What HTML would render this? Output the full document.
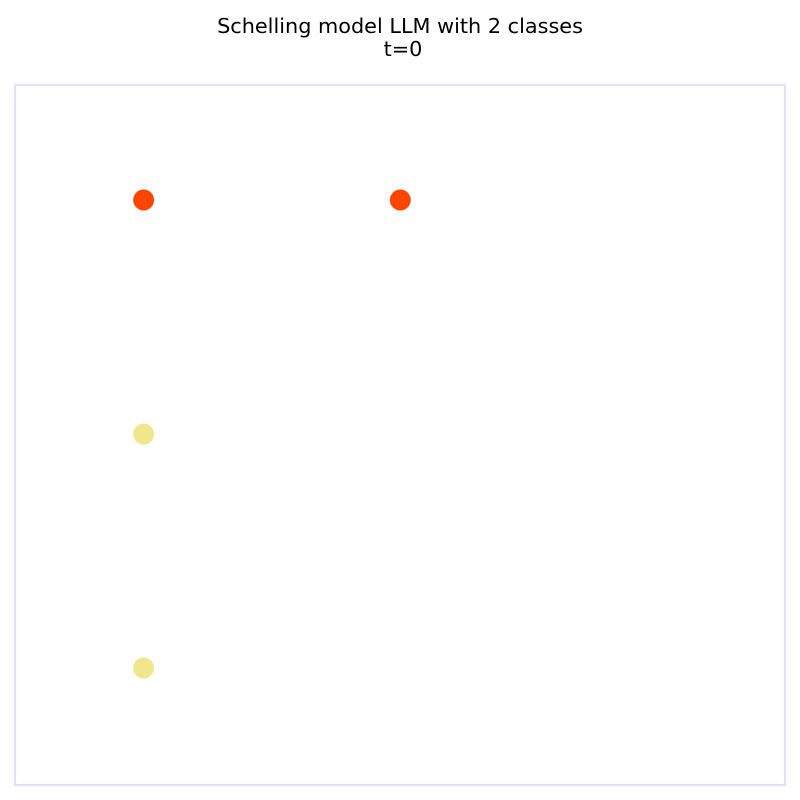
<!DOCTYPE html>
<html><head><meta charset="utf-8"><style>
html,body{margin:0;padding:0;background:#fff;}
svg{display:block;}
text{font-family:"DejaVu Sans","Liberation Sans",sans-serif;}
</style></head><body>
<svg width="800" height="800">
<text x="400" y="33" font-size="20.8" text-anchor="middle">Schelling model LLM with 2 classes</text>
<text x="403" y="56" font-size="20.8" text-anchor="middle">t=0</text>
<rect x="15" y="85" width="770" height="700" fill="none" stroke="#e0e0f8" stroke-width="2.2"/>
<g id="pts"></g>
</svg>
<script>
const xs=[0,1,0,0];
const ys=[0,0,1,2];
const classes=[0,0,1,1];
const colors=["#ff4500","#f0e68c"];
const xmin=-0.5,xmax=2.5,ymin=-0.5,ymax=2.5;
function sx(v){return 15+(v-xmin)/(xmax-xmin)*770;}
function sy(v){return 83+(v-ymin)/(ymax-ymin)*702;}
const g=document.getElementById('pts');
for(let i=0;i<xs.length;i++){
  const c=document.createElementNS('http://www.w3.org/2000/svg','circle');
  c.setAttribute('cx',sx(xs[i])+0.3);
  c.setAttribute('cy',sy(ys[i]));
  c.setAttribute('r',10.5);
  c.setAttribute('fill',colors[classes[i]]);
  
  
  g.appendChild(c);
}
</script>
</body></html>
